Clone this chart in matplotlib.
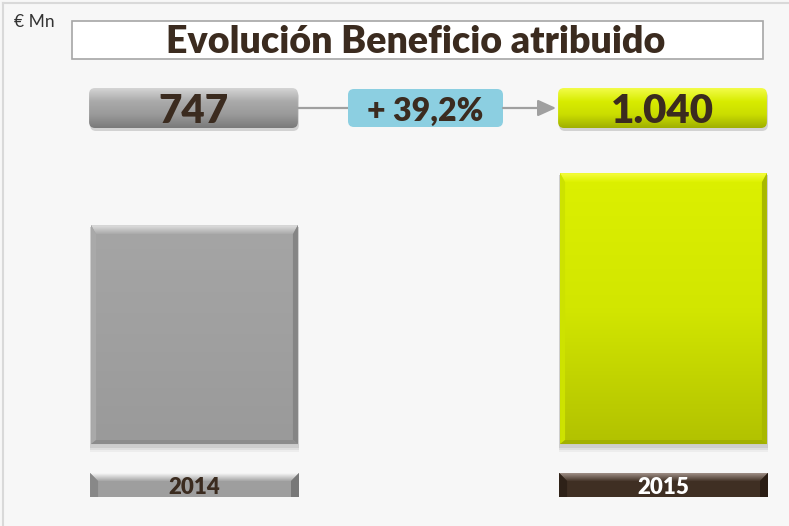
import numpy as np
import matplotlib.pyplot as plt
from matplotlib.patches import Polygon, Rectangle, FancyBboxPatch
from matplotlib.colors import LinearSegmentedColormap

# datos
years = ['2014', '2015']
beneficio = np.array([747, 1040])
etiquetas = ['747', '1.040']
variacion = '+ 39,2%'
titulo = 'Evolución Beneficio atribuido'
unidad = '€ Mn'

plt.rcParams['font.family'] = ['Lato', 'DejaVu Sans']
W, H = 789, 526
texto = '#3b2b1f'
fondo = '#f7f7f7'
peso = 'heavy'

fig = plt.figure(figsize=(W / 100, H / 100), dpi=100, facecolor=fondo)
ax = fig.add_axes([0, 0, 1, 1])
ax.set_facecolor(fondo)
ax.axis('off')

# barras (la base no es cero en el original)
x = np.arange(len(years))
base = -487
barras = ax.bar(x, beneficio - base, bottom=base, width=0.441,
                color=['#a0a0a0', '#d2e800'], zorder=2)
ax.set_xlim(-0.4147, 1.2676)
ax.set_ylim(-949, 2016)

# capa en pixeles para los adornos
ov = fig.add_axes([0, 0, 1, 1], zorder=3)
ov.axis('off')


def limites():
    ov.set_xlim(0, W)
    ov.set_ylim(H, 0)


limites()


def caja_px(rect):
    (x0, y0), (x1, y1) = ax.transData.transform(
        [(rect.get_x(), rect.get_y()),
         (rect.get_x() + rect.get_width(), rect.get_y() + rect.get_height())])
    return x0, H - y1, x1, H - y0


def degradado(l, t, r, b, colores, clip=None, z=1):
    cmap = LinearSegmentedColormap.from_list('g', colores)
    g = np.linspace(0, 1, 64).reshape(-1, 1)
    im = ov.imshow(g, cmap=cmap, extent=(l, r, b, t), origin='upper',
                   aspect='auto', interpolation='bilinear', zorder=z)
    if clip is not None:
        im.set_clip_path(clip)
    limites()
    return im


def bisel(l, t, r, b, sup, izq, der, inf, dx=5, dy=9, dinf=4):
    p = Polygon([(l, t), (r, t), (r - dx, t + dy), (l + dx, t + dy)],
                closed=True, fc='none', ec='none')
    ov.add_patch(p)
    degradado(l, t, r, t + dy, sup, clip=p, z=2)
    ov.add_patch(Polygon([(l, t), (l + dx, t + dy), (l + dx, b - dinf), (l, b)],
                         fc=izq, ec='none', zorder=2))
    ov.add_patch(Polygon([(r, t), (r, b), (r - dx, b - dinf), (r - dx, t + dy)],
                         fc=der, ec='none', zorder=2))
    if dinf > 0:
        ov.add_patch(Polygon([(l, b), (l + dx, b - dinf), (r - dx, b - dinf), (r, b)],
                             fc=inf, ec='none', zorder=2))


def sombra(l, t, r, b):
    for k, a in zip([6, 4, 2], [0.06, 0.09, 0.12]):
        ax.add_patch(Rectangle((l - 1, t + 2), r - l + 2, b - t + k,
                               transform=ov.transData, fc='#555555', ec='none',
                               alpha=a, zorder=1))


# cuerpo de las barras
estilos = [
    dict(cuerpo=['#a5a5a5', '#a0a0a0', '#9a9a9a'], sup=['#e0e0e0', '#aaaaaa'],
         izq='#a9a9a9', der='#858585', inf='#8c8c8c'),
    dict(cuerpo=['#dcf000', '#d2e600', '#b2c200'], sup=['#f6fd40', '#def200'],
         izq='#cde200', der='#a8b800', inf='#a2b000'),
]
cajas = []
for rect, est in zip(barras, estilos):
    l, t, r, b = caja_px(rect)
    cajas.append((l, t, r, b))
    sombra(l, t, r, b)
    degradado(l, t, r, b, est['cuerpo'], z=1)
    bisel(l, t, r, b, est['sup'], est['izq'], est['der'], est['inf'])

# marco exterior
ov.plot([3, 3], [3, H], color='#d9d9d9', lw=1.5, zorder=1)
ov.plot([3, W], [3, 3], color='#d9d9d9', lw=1.5, zorder=1)

# titulo
ov.add_patch(Rectangle((72, 21), 691, 38, fc='white', ec='#a6a6a6', lw=1.2, zorder=2))
ov.text(416, 53, titulo, ha='center', va='baseline', fontsize=27,
        fontweight=peso, color=texto, zorder=3)
ov.text(14, 27, unidad, ha='left', va='baseline', fontsize=12.5, color='#333333')

# cajas de valores
colores_valor = [['#d4d4d4', '#aaaaaa', '#9a9a9a', '#7a7a7a'],
                 ['#f2fc48', '#d8ec00', '#cadd00', '#a0b000']]
for (l, t, r, b), lab, cols in zip(cajas, etiquetas, colores_valor):
    vl, vr, vt, vb = l - 2, r, 88, 128
    ax.add_patch(FancyBboxPatch((vl + 1, vt + 3), vr - vl, vb - vt,
                                boxstyle='round,pad=0,rounding_size=6',
                                transform=ov.transData, fc='#666666', ec='none',
                                alpha=0.25, zorder=1))
    caja = FancyBboxPatch((vl, vt), vr - vl, vb - vt,
                          boxstyle='round,pad=0,rounding_size=6',
                          fc='none', ec='none', zorder=2)
    ov.add_patch(caja)
    degradado(vl, vt, vr, vb, cols, clip=caja, z=2)
    ov.text((vl + vr) / 2, 123, lab, ha='center', va='baseline', fontsize=29,
            fontweight=peso, color=texto, zorder=4)

# variacion y flechas
ov.plot([cajas[0][2], 348], [108, 108], color='#a0a0a0', lw=1.6, zorder=1)
ov.annotate('', xy=(cajas[1][0] - 4, 108), xytext=(503, 108),
            arrowprops=dict(arrowstyle='-|>,head_length=1.1,head_width=0.5',
                            color='#a0a0a0', lw=1.6, shrinkA=0, shrinkB=0))
ov.add_patch(FancyBboxPatch((348, 89), 155, 38,
                            boxstyle='round,pad=0,rounding_size=6',
                            fc='#8ccfe1', ec='none', zorder=2))
ov.text(425.5, 121, variacion, ha='center', va='baseline', fontsize=23,
        fontweight=peso, color=texto, zorder=4)

# etiquetas de los años
estilos_anio = [
    dict(cuerpo='#9e9e9e', sup=['#f8f8f8', '#a6a6a6'], izq='#888888',
         der='#787878', txt=texto),
    dict(cuerpo='#3f2f23', sup=['#a09088', '#45352a'], izq='#2e2118',
         der='#2a1d14', txt='white'),
]
for (l, t, r, b), anio, est in zip(cajas, years, estilos_anio):
    al, ar, at, ab = l - 1, r + 1, 473, 497
    ov.add_patch(Rectangle((al, at), ar - al, ab - at, fc=est['cuerpo'],
                           ec='none', zorder=1))
    bisel(al, at, ar, ab, est['sup'], est['izq'], est['der'], est['cuerpo'],
          dx=8, dy=8, dinf=0)
    ov.text((al + ar) / 2, 494, anio, ha='center', va='baseline', fontsize=16,
            fontweight=peso, color=est['txt'], zorder=4)

limites()
fig.savefig('out.png', dpi=100, facecolor=fondo)
